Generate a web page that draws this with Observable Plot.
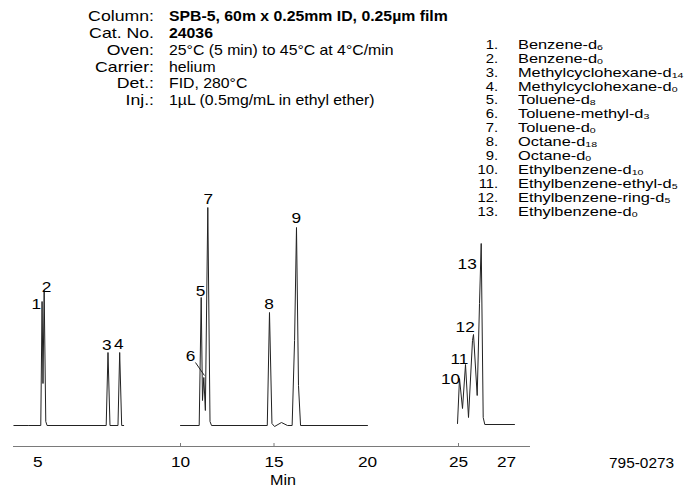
<!DOCTYPE html>
<html>
<head>
<meta charset="utf-8">
<script src="https://cdn.jsdelivr.net/npm/d3@7"></script>
<script src="https://cdn.jsdelivr.net/npm/@observablehq/plot@0.6"></script>
<style>
  body { margin: 0; background: #fff; }
  #wrap { position: relative; width: 685px; height: 489px; overflow: hidden;
          font-family: "Liberation Sans", Arial, sans-serif; color: #000; }
  #wrap svg { position: absolute; left: 0; top: 0; }
  .ov { position: absolute; white-space: nowrap; }
  .hdr { font-size: 14.5px; line-height: 16.75px; }
  .hkey { text-align: right; transform: scaleX(1.22); transform-origin: right top; }
  .hval { transform: scaleX(1.09); transform-origin: left top; }
  .lg { font-size: 12.4px; line-height: 13.9px; }
  .lnum { text-align: right; transform: scaleX(1.2); transform-origin: right top; }
  .lname { transform: scaleX(1.32); transform-origin: left top; }
  .sb { font-size: 8px; position: relative; top: 1px; line-height: 0; }
</style>
</head>
<body>
<div id="wrap"></div>
<script>
// ---------------- DATA ----------------
// Trace segments (retention time in min, detector signal in arbitrary units)
const seg1Time   = [3.72, 4.52, 5.160, 5.230, 5.278, 5.342, 5.428, 5.497, 8.663, 8.759, 8.866, 9.294, 9.385, 9.492, 9.599];
const seg1Signal = [0,    0,    0,     124,   42,    135,   4,     0,     0,     73,    0,     0,     73,    0,     0];

const seg2Time   = [10.0, 11.0, 11.107, 11.176, 11.246, 11.33, 11.46, 11.578, 11.66, 14.64, 14.759, 14.89, 15.03, 15.40, 15.72, 15.97, 16.10, 16.203, 16.31, 16.42, 20.0];
const seg2Signal = [0,    0,    128,    25,     48,     15,    218,   4,      0,     0,     113,    2,     -1,    3,     0,     0,     85,    198,    40,    0,     0];

const seg3Time   = [24.946, 25.042, 25.167, 25.292, 25.417, 25.583, 25.625, 25.779, 25.875, 25.946, 26.029, 26.096, 27.333];
const seg3Signal = [2,      47,     17,     61,     8,      85,     91,     30,     122,    182,    8,      1,      1];

// Peaks
const peakLabel  = ["1", "2", "3", "4", "5", "6", "7", "8", "9", "10", "11", "12", "13"];
const peakTime   = [5.230, 5.342, 8.759, 9.385, 11.107, 11.246, 11.46, 14.759, 16.203, 25.042, 25.292, 25.625, 25.946];
const peakHeight = [124, 135, 73, 73, 128, 48, 218, 113, 198, 47, 61, 91, 182];

// Compound legend
const compoundName = ["Benzene-d", "Benzene-d", "Methylcyclohexane-d", "Methylcyclohexane-d", "Toluene-d",
  "Toluene-methyl-d", "Toluene-d", "Octane-d", "Octane-d", "Ethylbenzene-d", "Ethylbenzene-ethyl-d",
  "Ethylbenzene-ring-d", "Ethylbenzene-d"];
const compoundSub = ["6", "0", "14", "0", "8", "3", "0", "18", "0", "10", "5", "5", "0"];

// Axis (broken time axis)
const axisTickValues = [5, 10, 15, 20, 25, 27];
const axisTickMarks = [10, 15, 25];
const axisBreaks = [3.7, 9.75, 10, 20, 25, 27, 28];

// Conditions
const headerKeys = ["Column:", "Cat. No.", "Oven:", "Carrier:", "Det.:", "Inj.:"];
const headerValues = ["SPB-5, 60m x 0.25mm ID, 0.25µm film", "24036", "25°C (5 min) to 45°C at 4°C/min",
  "helium", "FID, 280°C", "1µL (0.5mg/mL in ethyl ether)"];
const headerBold = [true, true, false, false, false, false];
const axisTitle = "Min";
const figureCode = "795-0273";

// ---------------- LAYOUT ----------------
const breakPixels = [13, 126, 180, 367, 458, 506, 530];
const axisLevel = -21;
const labelOffset = [[-5.8, 2.5], [2.4, -3.3], [-1.3, -7.7], [-1, -8], [-0.7, -6.5], [-13.3, -21.5], [0.4, -8],
  [-0.5, -8], [-0.3, -9], [-9, 1], [-6, -5.5], [-8.3, -7.3], [-14, 20.7]];
const leaderTime = [10.80, 11.28];
const leaderSignal = [63, 50];

// ---------------- BUILD ----------------
const trace = [
  ...seg1Time.map((t, i) => ({seg: 1, t, s: seg1Signal[i]})),
  ...seg2Time.map((t, i) => ({seg: 2, t, s: seg2Signal[i]})),
  ...seg3Time.map((t, i) => ({seg: 3, t, s: seg3Signal[i]}))
];
const peaks = peakLabel.map((lab, i) => ({lab, t: peakTime[i], s: peakHeight[i]}));

const labelMarks = peaks.map((p, i) => Plot.text([p], {
  x: "t", y: "s", text: "lab", dx: labelOffset[i][0], dy: labelOffset[i][1],
  fontSize: 15, fill: "#000"
}));

const chart = Plot.plot({
  width: 685, height: 489,
  marginLeft: 13, marginRight: 155, marginTop: 207, marginBottom: 43,
  style: {fontFamily: '"Liberation Sans", Arial, sans-serif', fontSize: "15px", color: "#000", background: "transparent", overflow: "visible"},
  x: {type: "linear", domain: axisBreaks, range: breakPixels, ticks: axisTickValues,
      tickSize: 0, tickPadding: 10, tickFormat: d => String(d), label: null},
  y: {domain: [axisLevel, 218], axis: null},
  marks: [
    Plot.ruleY([axisLevel], {stroke: "#7a7a7a", strokeWidth: 1}),
    Plot.ruleX(axisTickMarks, {y1: axisLevel, y2: axisLevel, insetTop: -3, stroke: "#7a7a7a", strokeWidth: 1}),
    Plot.line(trace, {x: "t", y: "s", z: "seg", stroke: "#222", strokeWidth: 1}),
    Plot.link([{x1: leaderTime[0], y1: leaderSignal[0], x2: leaderTime[1], y2: leaderSignal[1]}],
      {x1: "x1", y1: "y1", x2: "x2", y2: "y2", stroke: "#222", strokeWidth: 1}),
    ...labelMarks
  ]
});

const wrap = document.getElementById("wrap");
wrap.appendChild(chart);

// widen SVG glyphs slightly to match the reference typeface proportions
chart.querySelectorAll("text").forEach(t => {
  const L = t.getComputedTextLength();
  if (L > 0) { t.setAttribute("textLength", (L * 1.15).toFixed(2)); t.setAttribute("lengthAdjust", "spacingAndGlyphs"); }
});

// header (conditions)
const keyBox = document.createElement("div");
keyBox.className = "ov hdr hkey";
keyBox.style.right = (685 - 154) + "px";
keyBox.style.top = "8.3px";
const valBox = document.createElement("div");
valBox.className = "ov hdr hval";
valBox.style.left = "169px";
valBox.style.top = "8.3px";
headerKeys.forEach((k, i) => {
  const a = document.createElement("div"); a.textContent = k; keyBox.appendChild(a);
  const b = document.createElement("div"); b.textContent = headerValues[i];
  if (headerBold[i]) b.style.fontWeight = "bold";
  valBox.appendChild(b);
});
wrap.appendChild(keyBox);
wrap.appendChild(valBox);

// compound legend
const numBox = document.createElement("div");
numBox.className = "ov lg lnum";
numBox.style.right = (685 - 498) + "px";
numBox.style.top = "38.8px";
const nameBox = document.createElement("div");
nameBox.className = "ov lg lname";
nameBox.style.left = "518px";
nameBox.style.top = "38.8px";
compoundName.forEach((n, i) => {
  const a = document.createElement("div"); a.textContent = peakLabel[i] + "."; numBox.appendChild(a);
  const b = document.createElement("div");
  b.appendChild(document.createTextNode(n));
  const s = document.createElement("span"); s.className = "sb"; s.textContent = compoundSub[i];
  b.appendChild(s);
  nameBox.appendChild(b);
});
wrap.appendChild(numBox);
wrap.appendChild(nameBox);

// axis title and figure code
const minLab = document.createElement("div");
minLab.className = "ov";
minLab.style.cssText = "left:283px;top:473px;font-size:14px;line-height:14px;transform:translateX(-50%) scaleX(1.15);";
minLab.textContent = axisTitle;
wrap.appendChild(minLab);

const code = document.createElement("div");
code.className = "ov";
code.style.cssText = "left:609px;top:456px;font-size:14px;line-height:14px;transform:scaleX(1.1);transform-origin:left top;";
code.textContent = figureCode;
wrap.appendChild(code);
</script>
</body>
</html>
